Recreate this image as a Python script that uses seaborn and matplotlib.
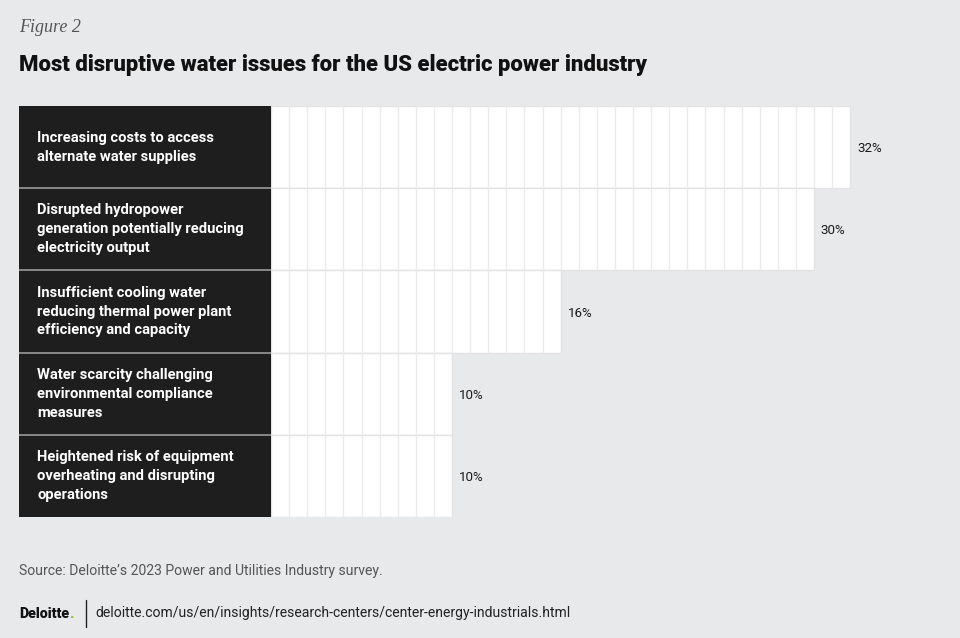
import matplotlib
matplotlib.use("Agg")
import matplotlib.pyplot as plt
from matplotlib.lines import Line2D
import seaborn as sns
import pandas as pd

categories = [
    "Increasing costs to access\nalternate water supplies",
    "Disrupted hydropower\ngeneration potentially reducing\nelectricity output",
    "Insufficient cooling water\nreducing thermal power plant\nefficiency and capacity",
    "Water scarcity challenging\nenvironmental compliance\nmeasures",
    "Heightened risk of equipment\noverheating and disrupting\noperations",
]
values = [32, 30, 16, 10, 10]
value_labels = [f"{v}%" for v in values]

title = "Most disruptive water issues for the US electric power industry"
figure_label = "Figure 2"
source = "Source: Deloitte\u2019s 2023 Power and Utilities Industry survey."
url = "deloitte.com/us/en/insights/research-centers/center-energy-industrials.html"

sns.set_theme(style="white")
BG = "#e8e9eb"
W, H = 960, 638
fig = plt.figure(figsize=(W / 100, H / 100), dpi=100, facecolor=BG)

plt.rcParams["font.family"] = ["Roboto", "DejaVu Sans"]
fs_lab, fs_val, fs_src, fs_title = 10.6, 9.6, 10.1, 15.9

unit = 18.1
ax_left, ax_bottom, ax_h = 271, 121, 411
ax = fig.add_axes([ax_left / W, ax_bottom / H, (W - ax_left) / W, ax_h / H])
ax.set_facecolor(BG)

df = pd.DataFrame({"issue": categories, "pct": values})
sns.barplot(data=df, y="issue", x="pct", orient="h", color="white",
            width=1.0, edgecolor="#e3e3e3", linewidth=1.0, ax=ax, saturation=1)
ax.set_xlim(0, (W - ax_left) / unit)
ax.set_ylim(len(categories) - 0.5, -0.5)
for i, v in enumerate(values):
    ax.vlines(range(1, v), i - 0.5, i + 0.5, color="#ebebeb", linewidth=1.0, zorder=3)
    ax.text(v + 0.38, i + 0.02, value_labels[i], va="center", ha="left",
            fontsize=fs_val, color="#1a1a1a")
ax.set_xlabel("")
ax.set_ylabel("")
ax.set_xticks([])
ax.set_yticks([])
for s in ax.spines.values():
    s.set_visible(False)

# label column
ax_lab = fig.add_axes([19 / W, ax_bottom / H, 252 / W, ax_h / H])
ax_lab.set_facecolor("#1e1e1e")
ax_lab.set_xlim(0, 1)
ax_lab.set_ylim(len(categories) - 0.5, -0.5)
for i, c in enumerate(categories):
    ax_lab.text(18 / 252, i, c, va="center", ha="left", color="white",
                fontsize=fs_lab, fontweight="bold", linespacing=1.45)
for b in range(1, len(categories)):
    ax_lab.axhline(b - 0.5, color="#9a9a9a", linewidth=1.2)
ax_lab.set_xticks([])
ax_lab.set_yticks([])
for s in ax_lab.spines.values():
    s.set_visible(False)

# titles
fig.text(19 / W, 1 - 27 / H, figure_label, ha="left", va="center",
         fontsize=13, fontstyle="italic", color="#555555",
         family=["Liberation Serif", "DejaVu Serif"])
fig.text(19 / W, 1 - 65 / H, title, ha="left", va="center",
         fontsize=fs_title, fontweight="black", color="#111111")

# footer
fig.text(19 / W, 1 - 571 / H, source, ha="left", va="center",
         fontsize=fs_src, color="#555555")
fig.text(19 / W, 1 - 618 / H, "Deloitte", ha="left", va="baseline",
         fontsize=10.3, fontweight="black", color="#111111")
fig.text(69.5 / W, 1 - 618 / H, ".", ha="left", va="baseline",
         fontsize=10.3, fontweight="black", color="#86bc25")
fig.add_artist(Line2D([86 / W, 86 / W], [1 - 600 / H, 1 - 627 / H],
                      color="#222222", linewidth=1.0))
fig.text(95 / W, 1 - 613 / H, url, ha="left", va="center",
         fontsize=fs_src, color="#222222")

fig.savefig("out.png", dpi=100, facecolor=BG)
